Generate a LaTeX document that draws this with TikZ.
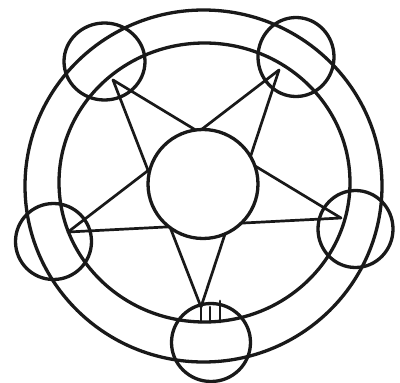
\documentclass[tikz,border=0pt]{standalone}
\begin{document}
\begin{tikzpicture}[x=1pt,y=-1pt,
  ring/.style={draw=black!90,line width=3.3pt},
  edge/.style={draw=black!90,line width=2.7pt,line cap=round}]
\useasboundingbox (0,0) rectangle (400,383);
\fill[white] (0,0) rectangle (400,383);
% star vertices
\coordinate (TL) at (113,80);
\coordinate (TR) at (279,70);
\coordinate (R) at (341,218);
\coordinate (L) at (68,232);
\coordinate (B) at (201,307);
\coordinate (Bb) at (201,322);
% star edges
\draw[edge] (TL) -- (R);
\draw[edge] (TL) -- (B);
\draw[edge] (TR) -- (L);
\draw[edge] (TR) -- (B);
\draw[edge] (L) -- (R);
\draw[edge] (B) -- (Bb);
\draw[edge] (210,307) -- (210,322);
\draw[edge] (220,301) -- (220,322);
% rings
\draw[ring] (203.5,186) ellipse [x radius=178.5,y radius=176];
\draw[ring] (204.5,182.5) ellipse [x radius=145.5,y radius=139.5];
\draw[ring,fill=white] (203,184) ellipse [x radius=55,y radius=54.5];
% small circles
\draw[ring] (104.5,61.5) ellipse [x radius=40.5,y radius=38.5];
\draw[ring] (296,57) ellipse [x radius=38,y radius=39.5];
\draw[ring] (355.5,229) ellipse [x radius=37.5,y radius=38.5];
\draw[ring] (53.5,241.5) ellipse [x radius=38,y radius=38];
\draw[ring] (211,342.5) ellipse [x radius=39.5,y radius=39];
\end{tikzpicture}
\end{document}
